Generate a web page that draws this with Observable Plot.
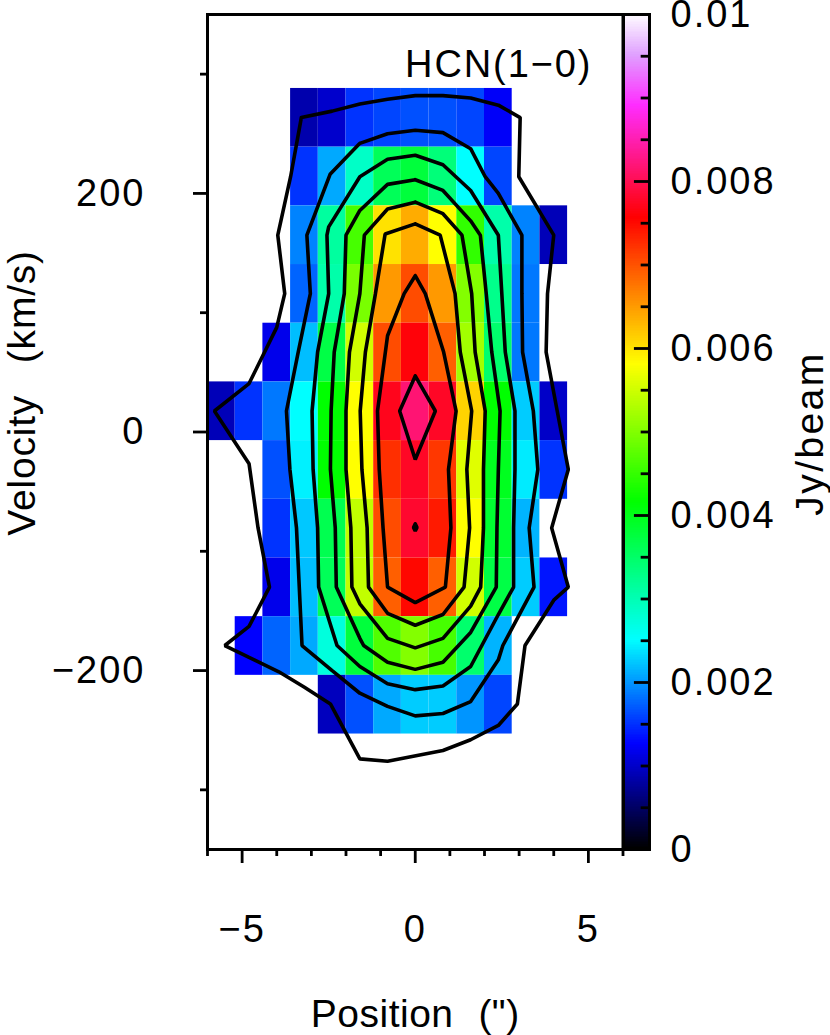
<!DOCTYPE html>
<html>
<head>
<meta charset="utf-8">
<script src="https://cdn.jsdelivr.net/npm/d3@7"></script>
<script src="https://cdn.jsdelivr.net/npm/@observablehq/plot@0.6"></script>
<style>
html,body{margin:0;padding:0;background:#fff}
#chart{position:relative;width:830px;height:1035px;overflow:hidden}
#chart svg{position:absolute;left:0;top:0;background:transparent}
#chart svg text{letter-spacing:2px}
#chart svg .lblV text{letter-spacing:.8px;word-spacing:20px}
#chart svg .lblP text{letter-spacing:.5px;word-spacing:13.5px}
#chart svg .lblJ text{letter-spacing:2.4px}
#chart svg .lblH text{letter-spacing:1.9px}
</style>
</head>
<body>
<div id="chart"></div>
<script>
const n = null;
const positions = [-5.6,-4.8,-4,-3.2,-2.4,-1.6,-0.8,0,0.8,1.6,2.4,3.2,4];
const velocities = [263.4,214.2,165,115.8,66.6,17.4,-31.8,-81,-130.2,-179.4,-228.6];
const cellWidth = 0.8;
const cellHeight = 49.2;
const row263 = [n,n,n,.00085,.001,.0015,.00159,.00164,.00164,.00159,.00122,n,n];
const row214 = [n,n,n,.0015,.00208,.00286,.00358,.00376,.00337,.0025,.00159,n,n];
const row165 = [n,n,n,.00189,.00312,.0046,.0060,.00637,.0058,.00447,.00305,.00189,.0009];
const row116 = [n,n,n,.00174,.00305,.00493,.0065,.00703,.0065,.005,.00325,.00184,n];
const row67  = [n,n,.00115,.00218,.0037,.0055,.00703,.0076,.0069,.0052,.00345,.00184,n];
const row17  = [.0009,.0015,.00184,.0025,.00415,.0058,.0077,.00816,.00775,.0061,.00415,.00225,.00098];
const rowM32 = [n,n,.00164,.00243,.00415,.0058,.00723,.00775,.00717,.0056,.00395,.0024,.0015];
const rowM81 = [n,n,.0015,.00223,.00363,.0054,.00703,.0078,.00737,.0058,.00383,.00213,n];
const rowM130= [n,n,.00115,.00218,.00358,.0054,.0069,.0075,.0069,.0055,.0037,.00225,.00135];
const rowM179= [n,.00125,.00174,.00208,.00272,.00376,.00467,.005,.0046,.00345,.00213,n,n];
const rowM229= [n,n,n,n,.00093,.00164,.00208,.00225,.00225,.00198,.00159,n,n];
const intensity = [row263,row214,row165,row116,row67,row17,rowM32,rowM81,rowM130,rowM179,rowM229];

const contour1 = [[-3.29,263.6],[-2.4,269],[-1.6,275],[-.8,279],[0,282],[.8,282],[1.6,280],[2.4,274],[3.03,263.6],[2.99,214],[4,165],[3.82,116],[3.78,67],[4.1,17.6],[4.42,-31.4],[3.94,-80.4],[4.42,-130],[4,-141],[3.17,-179],[2.95,-228],[2.4,-246],[1.6,-258],[.8,-267],[-.8,-276],[-1.6,-274],[-2.45,-228],[-3.2,-214],[-3.94,-201],[-4.8,-189],[-5.5,-179],[-4.8,-163],[-4.21,-130],[-4.54,-80.4],[-4.8,-26.6],[-5.8,17.6],[-4.8,40.6],[-4,87.7],[-3.77,116],[-3.97,165],[-3.6,214]];
const contour2 = [[-1.6,242],[-.8,250],[0,253],[.8,251],[1.6,237.5],[2.02,214],[2.4,200],[3.08,165],[3.08,116],[3.1,67],[3.41,17.6],[3.54,-31.4],[3.29,-80.4],[3.43,-130],[2.53,-179],[2.4,-191],[1.6,-226],[.8,-236],[0,-238],[-.8,-230],[-1.6,-219],[-2.4,-200],[-3.27,-179],[-3.43,-80.4],[-3.62,-31.4],[-3.72,17.6],[-3.38,67],[-3.03,116],[-3.13,165],[-2.46,216]];
const contour3 = [[0,232],[.8,224],[1.6,202.5],[2.4,165],[2.5,116],[2.6,67],[2.88,17.6],[2.88,-31.4],[2.84,-80.4],[2.84,-130],[2.4,-153],[1.6,-196.6],[.8,-213],[0,-216],[-.8,-211],[-1.6,-196.6],[-2.26,-179],[-2.79,-130],[-2.82,-80.4],[-2.95,-31.4],[-2.98,17.6],[-2.82,67],[-2.5,116],[-2.55,165],[-2.5,172],[-1.6,214],[-.8,228.6]];
const contour4 = [[0,211.5],[.8,202.5],[1.6,177],[1.88,165],[2.05,116],[2.21,67],[2.45,17.6],[2.4,-31.4],[2.36,-80.4],[2.34,-130],[1.6,-168],[.8,-193],[0,-199],[-.8,-193],[-1.49,-179],[-1.6,-173],[-2.28,-130],[-2.31,-80.4],[-2.45,-31.4],[-2.43,17.6],[-2.34,67],[-2.05,116],[-2,165],[-1.6,185.7],[-.8,207.6]];
const contour5 = [[0,192.7],[.8,183],[1.35,165],[1.63,116],[1.73,67],[2.02,17.6],[1.97,-31.4],[1.97,-80.4],[1.89,-130],[1.6,-146],[.8,-173],[0,-181],[-.8,-173],[-1.6,-144],[-1.83,-130],[-1.86,-80.4],[-2,-31.4],[-2,17.6],[-1.9,67],[-1.6,116],[-1.47,165],[-.8,187]];
const contour6 = [[0,174.5],[.72,165],[1.15,116],[1.3,67],[1.63,17.6],[1.49,-31.4],[1.57,-80.4],[1.41,-130],[.8,-153],[0,-162],[-.8,-152],[-1.35,-130],[-1.39,-80.4],[-1.54,-31.4],[-1.59,17.6],[-1.44,67],[-1.15,116],[-.87,166]];
const contour7 = [[0,131],[.29,116],[.82,67],[1.18,17.6],[.96,-31.4],[1.03,-80.4],[.87,-130],[0,-143],[-.8,-130],[-.93,-80.4],[-1.04,-31.4],[-1.09,17.6],[-.8,80.7],[-.32,116]];
const contour8 = [[0,47],[.58,17.6],[0,-23],[-.45,17.6]];
const contour8b = [[0,-77],[.05,-80],[0,-83],[-.05,-80]];
const contours = [contour1,contour2,contour3,contour4,contour5,contour6,contour7,contour8,contour8b];

const colorStops = [0,.00125,.0025,.00415,.0058,.00755,.0089,.0095,.01];
const colorRange = ["#000000","#0000ff","#00ffff","#00ff00","#ffff00","#ff0000","#ff2cff","#e0a0ff","#ffffff"];
const xMajor = [-5,0,5];
const xMinor = [-6,-4,-3,-2,-1,1,2,3,4,6];
const yMajor = [-200,0,200];
const yMinor = [-300,-100,100,300];
const barMajor = [0,.002,.004,.006,.008,.01];
const barMinor = [.0005,.001,.0015,.0025,.003,.0035,.0045,.005,.0055,.0065,.007,.0075,.0085,.009,.0095];

const cells = velocities.flatMap((v,i)=>positions.map((p,j)=>({p,v,val:intensity[i][j]}))).filter(d=>d.val!=null);
const lineRows = contours.flatMap((c,id)=>[...c,c[0]].map(([x,y])=>({x,y,id})));
const font = "'Liberation Sans', Arial, sans-serif";
const ramp = d3.scaleLinear().domain(colorStops).range(colorRange).interpolate(d3.interpolateRgb);
const colorOpt = {type:"linear",domain:[0,.01],interpolate:t=>ramp(t*.01)};

const main = Plot.plot({
  width:830,height:1035,marginLeft:207,marginRight:207.5,marginTop:14,marginBottom:186,
  style:{fontFamily:font,background:"transparent"},
  x:{domain:[-6,6]},y:{domain:[-350,350]},color:colorOpt,
  marks:[
    Plot.rect(cells,{x1:d=>d.p-cellWidth/2,x2:d=>d.p+cellWidth/2,y1:d=>d.v-cellHeight/2,y2:d=>d.v+cellHeight/2,fill:"val"}),
    Plot.line(lineRows,{x:"x",y:"y",z:"id",stroke:"#000",strokeWidth:3.6,strokeLinejoin:"miter",curve:"linear"}),
    Plot.text(["HCN(1−0)"],{x:2.41,y:297.5,text:d=>d,fontSize:38,fill:"#000",textAnchor:"middle",lineAnchor:"bottom",className:"lblH"}),
    Plot.text(['Position (")'],{x:0,y:-499,text:d=>d,fontSize:39,fill:"#000",textAnchor:"middle",lineAnchor:"bottom",className:"lblP"}),
    Plot.text(["Velocity (km/s)"],{x:-10.97,y:32.8,text:d=>d,fontSize:39,fill:"#000",textAnchor:"middle",lineAnchor:"bottom",rotate:-90,className:"lblV"}),
    Plot.text(["Jy/beam"],{x:11.77,y:-1.3,text:d=>d,fontSize:39,fill:"#000",textAnchor:"middle",lineAnchor:"bottom",rotate:-90,className:"lblJ"}),
    Plot.frame({stroke:"#000",strokeWidth:3}),
    Plot.axisX({ticks:xMajor,tickSize:14,tickPadding:52,fontSize:38,strokeWidth:2.8,label:null}),
    Plot.axisX({ticks:xMinor,tickSize:7,tickFormat:()=>"",label:null,strokeWidth:2.8}),
    Plot.axisY({ticks:yMajor,tickSize:14,tickPadding:48,fontSize:38,strokeWidth:2.8,label:null}),
    Plot.axisY({ticks:yMinor,tickSize:7,tickFormat:()=>"",label:null,strokeWidth:2.8})
  ]
});

const step = .00002;
const barLevels = d3.range(0,.01,step);
const bar = Plot.plot({
  width:830,height:1035,marginLeft:623,marginRight:181,marginTop:14,marginBottom:186,
  style:{fontFamily:font,background:"transparent"},
  x:{domain:[0,1],axis:null},y:{domain:[0,.01]},color:colorOpt,
  marks:[
    Plot.rect(barLevels,{x1:0,x2:1,y1:d=>d,y2:d=>d+step,fill:d=>d,shapeRendering:"crispEdges"}),
    Plot.ruleY(barMajor.filter(d=>d>0&&d<.01),{y:d=>d,stroke:"#000",strokeWidth:2.8,x1:0.42,x2:1}),
    Plot.ruleY(barMinor,{y:d=>d,stroke:"#000",strokeWidth:2.8,x1:0.68,x2:1}),
    Plot.frame({stroke:"#000",strokeWidth:3}),
    Plot.axisY({anchor:"right",ticks:barMajor,tickSize:0,tickPadding:21,fontSize:38,tickFormat:d=>d===0?"0":String(d),label:null})
  ]
});
document.getElementById("chart").append(main,bar);
</script>
</body>
</html>
